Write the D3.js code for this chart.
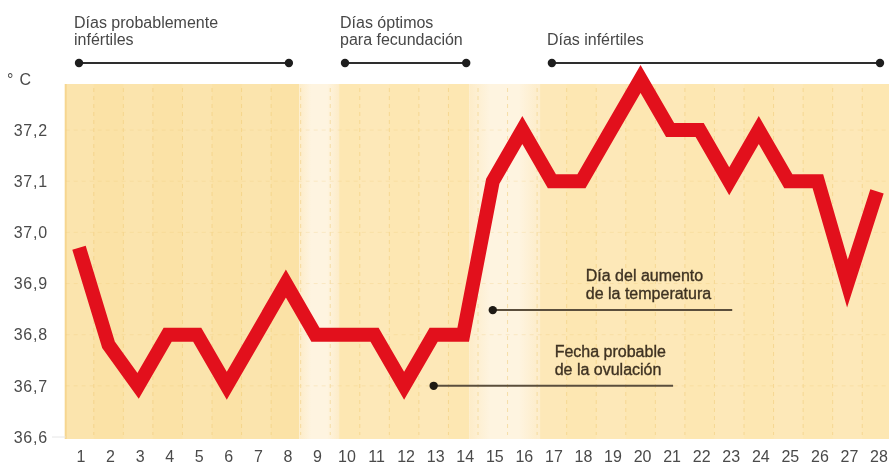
<!DOCTYPE html>
<html lang="es">
<head>
<meta charset="UTF-8">
<title>Temperatura basal</title>
<script src="https://d3js.org/d3.v7.min.js"></script>
<style>
  body { margin: 0; background: #fff; }
  text { font-family: "Liberation Sans", Arial, sans-serif; }
  .phase-label { font-size: 16px; fill: #474747; }
  .tick-y { font-size: 16px; fill: #4a4a4a; letter-spacing: 0.8px; }
  .tick-x { font-size: 16px; fill: #4a4a4a; }
  .note { font-size: 16px; fill: #3e3222; stroke: #3e3222; stroke-width: 0.35px; }
</style>
</head>
<body>
<div id="chart"></div>
<script>
const width = 889, height = 464;

// dias del ciclo y temperatura basal (°C)
const days = [1, 2, 3, 4, 5, 6, 7, 8, 9, 10, 11, 12, 13, 14,
              15, 16, 17, 18, 19, 20, 21, 22, 23, 24, 25, 26, 27, 28];
const temps = [36.97, 36.78, 36.7, 36.8, 36.8, 36.7, 36.8, 36.9, 36.8, 36.8,
               36.8, 36.7, 36.8, 36.8, 37.1, 37.2, 37.1, 37.1, 37.2, 37.3,
               37.2, 37.2, 37.1, 37.2, 37.1, 37.1, 36.9, 37.08];
const yTicks = [36.6, 36.7, 36.8, 36.9, 37.0, 37.1, 37.2];

// fases del ciclo (rotulos de arriba)
const phaseLabels = [["Días probablemente", "infértiles"], ["Días óptimos", "para fecundación"], ["Días infértiles"]];
const phaseStart = [1, 10, 17];
const phaseEnd = [8, 14, 28];

// franjas de fondo (en dias)
const bandFrom = [0.55, 8.45, 9.8, 14.2, 16.6];
const bandTo = [8.45, 9.8, 14.2, 16.6, 28.5];
const bandLight = [false, true, false, true, false];

// notas dentro del grafico: dia y temperatura del punto
const noteLines = [["Día del aumento", "de la temperatura"], ["Fecha probable", "de la ovulación"]];
const noteDay = [15, 13];
const noteTemp = [36.848, 36.7];
const noteEndDay = [23.0, 21.0];

const x = d3.scaleLinear().domain([1, 28]).range([79, 877]);
const y = d3.scaleLinear().domain([36.6, 37.29]).range([437, 84]);
const fmt = d3.formatLocale({ decimal: ",", thousands: ".", grouping: [3], currency: ["", "€"] }).format(".1f");

const svg = d3.select("#chart").append("svg")
  .attr("width", width).attr("height", height);

const defs = svg.append("defs");
const lg = defs.append("linearGradient").attr("id", "lightBand")
  .attr("x1", 0).attr("x2", 1).attr("y1", 0).attr("y2", 0);
lg.append("stop").attr("offset", "0%").attr("stop-color", "#fdecc8");
lg.append("stop").attr("offset", "30%").attr("stop-color", "#fef4e0");
lg.append("stop").attr("offset", "70%").attr("stop-color", "#fef4e0");
lg.append("stop").attr("offset", "100%").attr("stop-color", "#fdecc8");

const plotTop = y(37.29), plotBottom = y(36.6) + 2;

// fondo
const bg = svg.append("g");
bandFrom.forEach((f, i) => {
  bg.append("rect")
    .attr("x", x(f))
    .attr("y", plotTop)
    .attr("width", Math.min(x(bandTo[i]), width) - x(f))
    .attr("height", plotBottom - plotTop)
    .attr("fill", bandLight[i] ? "url(#lightBand)" : (i === 0 ? "#fbe2a6" : "#fde7b2"));
});

// columnas alternas suaves
days.forEach(d => {
  if (d % 2 === 0) return;
  const inLight = bandFrom.some((f, i) => bandLight[i] && d >= f && d <= bandTo[i]);
  if (inLight) return;
  bg.append("rect")
    .attr("x", x(d - 0.5)).attr("y", plotTop)
    .attr("width", x(d + 0.5) - x(d - 0.5))
    .attr("height", plotBottom - plotTop)
    .attr("fill", "#fff").attr("opacity", 0.08);
});

// borde izquierdo
bg.append("line")
  .attr("x1", x(0.55)).attr("x2", x(0.55))
  .attr("y1", plotTop).attr("y2", plotBottom)
  .attr("stroke", "#f6d690").attr("stroke-width", 2);

// rejilla punteada
const grid = svg.append("g").attr("stroke", "#efc871").attr("stroke-width", 1)
  .attr("stroke-dasharray", "4,4").attr("opacity", 0.5);
days.forEach(d => {
  grid.append("line")
    .attr("x1", x(d + 0.5)).attr("x2", x(d + 0.5))
    .attr("y1", plotTop + 4).attr("y2", plotBottom - 4);
});
yTicks.slice(1).forEach(t => {
  grid.append("line")
    .attr("x1", x(0.55)).attr("x2", width)
    .attr("y1", y(t)).attr("y2", y(t))
    .attr("opacity", 0.5);
});

// marca en 36,6
svg.append("line")
  .attr("x1", 52).attr("x2", x(0.55))
  .attr("y1", y(36.6)).attr("y2", y(36.6))
  .attr("stroke", "#e6e6e6").attr("stroke-width", 1);

// eje y
svg.append("g").selectAll("text").data(yTicks).join("text")
  .attr("class", "tick-y")
  .attr("x", 48).attr("y", d => y(d))
  .attr("dy", "0.36em")
  .attr("text-anchor", "end")
  .text(d => fmt(d));

svg.append("text")
  .attr("class", "tick-y")
  .attr("x", 7).attr("y", y(37.3) + 6)
  .text("° C");

// eje x
svg.append("g").selectAll("text").data(days).join("text")
  .attr("class", "tick-x")
  .attr("x", d => x(d) + 2).attr("y", 462)
  .attr("text-anchor", "middle")
  .text(d => d);

// fases arriba
phaseLabels.forEach((lines, i) => {
  const g = svg.append("g");
  lines.forEach((l, j) => {
    g.append("text")
      .attr("class", "phase-label")
      .attr("x", x(phaseStart[i]) - 5)
      .attr("y", 45 - (lines.length - 1 - j) * 17)
      .text(l);
  });
  g.append("line")
    .attr("x1", x(phaseStart[i])).attr("x2", x(phaseEnd[i]) + 3)
    .attr("y1", 63).attr("y2", 63)
    .attr("stroke", "#2e2e2e").attr("stroke-width", 2);
  [x(phaseStart[i]), x(phaseEnd[i]) + 3].forEach(cx => {
    g.append("circle").attr("cx", cx).attr("cy", 63).attr("r", 4.2).attr("fill", "#1e1e1e");
  });
});

// notas
noteLines.forEach((lines, i) => {
  const yy = y(noteTemp[i]);
  const x0 = x(noteDay[i]);
  svg.append("line")
    .attr("x1", x0).attr("x2", x(noteEndDay[i]) + 3)
    .attr("y1", yy).attr("y2", yy)
    .attr("stroke", "#5a4e3c").attr("stroke-width", 2);
  svg.append("circle").attr("cx", x0).attr("cy", yy).attr("r", 4.2).attr("fill", "#1e1a14");
  lines.forEach((l, j) => {
    svg.append("text")
      .attr("class", "note")
      .attr("x", x(noteDay[i]) + (i === 0 ? 93 : 121))
      .attr("y", yy - 11 - (lines.length - 1 - j) * 18)
      .text(l);
  });
});

// curva de temperatura
svg.append("path")
  .datum(days.map((d, i) => ({ d, t: temps[i] })))
  .attr("fill", "none")
  .attr("stroke", "#e2101c")
  .attr("stroke-width", 14)
  .attr("stroke-linejoin", "miter")
  .attr("stroke-miterlimit", 6)
  .attr("stroke-linecap", "butt")
  .attr("d", d3.line().x(p => x(p.d)).y(p => y(p.t)));
</script>
</body>
</html>
